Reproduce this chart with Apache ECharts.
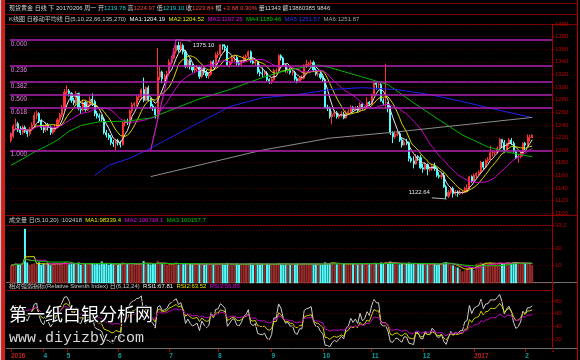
<!DOCTYPE html>
<html><head><meta charset="utf-8">
<script src="https://cdn.jsdelivr.net/npm/echarts@6/dist/echarts.min.js"></script>
<style>html,body{margin:0;padding:0;background:#000}#c{width:580px;height:360px}</style>
</head><body><div id="c"></div>
<script>
// ---------------- data ----------------
const tickIndex = [0,14,24,46,68,89,112,134,155,177,199,221];
const tickLabels = ['2016','4','5','6','7','8','9','10','11','12','2017','2'];

const opens = [1215,1222,1238,1242,1232,1228,1236,1230,1226,1233,
1240,1255,1258,1246,1236,1232,1240,1236,1228,1232,
1236,1248,1256,1266,1292,1294,1290,1279,1275,1290,
1266,1264,1276,1264,1272,1281,1277,1258,1254,1252,
1249,1228,1224,1220,1212,1210,1215,1212,1209,1243,
1246,1244,1262,1272,1274,1284,1285,1296,1279,1299,
1279,1270,1267,1256,1316,1324,1313,1317,1321,1339,
1346,1357,1366,1359,1366,1356,1333,1342,1333,1327,
1329,1331,1317,1330,1323,1318,1320,1340,1333,1351,
1352,1367,1365,1362,1335,1340,1346,1347,1338,1336,
1340,1347,1349,1356,1341,1338,1340,1324,1322,1321,
1322,1312,1309,1312,1326,1326,1350,1346,1335,1327,
1328,1323,1323,1313,1310,1314,1314,1333,1336,1337,
1339,1327,1321,1321,1315,1312,1268,1266,1253,1257,
1259,1253,1255,1257,1251,1259,1261,1268,1264,1267,
1263,1273,1266,1268,1276,1273,1288,1307,1304,1304,
1278,1275,1275,1266,1227,1221,1225,1226,1216,1208,
1213,1212,1187,1183,1178,1190,1188,1172,1170,1177,
1170,1170,1175,1171,1160,1158,1160,1142,1127,1133,
1139,1131,1133,1131,1133,1133,1139,1140,1158,1151,
1160,1163,1165,1181,1173,1184,1185,1196,1196,1196,
1203,1217,1212,1201,1210,1216,1211,1198,1188,1190,
1195,1211,1208,1220,1219.78];

const closes = [1222,1238,1242,1232,1228,1236,1230,1226,1233,1240,
1255,1258,1246,1236,1232,1240,1236,1228,1232,1236,
1248,1256,1268,1292,1294,1290,1279,1275,1290,1266,
1264,1276,1264,1272,1281,1277,1258,1254,1252,1249,
1228,1224,1220,1212,1210,1215,1212,1209,1243,1246,
1244,1262,1272,1274,1284,1285,1296,1279,1299,1279,
1270,1267,1256,1316,1324,1313,1317,1321,1339,1346,
1357,1366,1359,1366,1356,1333,1342,1333,1327,1329,
1331,1317,1330,1323,1318,1320,1340,1333,1351,1352,
1367,1365,1362,1335,1340,1346,1347,1338,1336,1340,
1347,1349,1356,1341,1338,1340,1324,1322,1321,1322,
1312,1309,1312,1326,1326,1350,1346,1335,1327,1328,
1323,1323,1313,1310,1314,1314,1333,1336,1337,1339,
1327,1321,1321,1315,1312,1268,1266,1253,1257,1259,
1253,1255,1257,1251,1259,1261,1268,1264,1267,1263,
1273,1266,1268,1276,1273,1288,1307,1304,1304,1278,
1275,1275,1266,1227,1221,1225,1226,1216,1208,1213,
1212,1187,1183,1178,1190,1188,1172,1170,1177,1170,
1170,1175,1171,1160,1158,1160,1142,1127,1133,1139,
1131,1133,1131,1133,1133,1139,1140,1158,1151,1160,
1163,1165,1181,1173,1184,1185,1196,1196,1196,1203,
1217,1212,1201,1210,1216,1211,1198,1188,1190,1195,
1211,1208,1220,1220,1223.84];

const lows = [1212,1219,1233,1229,1224,1225,1227,1221,1223,1230,
1237,1249,1243,1232,1227,1229,1231,1224,1225,1229,
1234,1244,1252,1263,1287,1285,1275,1271,1272,1263,
1258,1261,1261,1262,1269,1270,1254,1250,1246,1245,
1225,1220,1216,1208,1205,1200,1207,1204,1207,1238,
1240,1241,1258,1266,1270,1279,1280,1276,1277,1277,
1266,1262,1250,1250,1311,1306,1309,1311,1318,1336,
1344,1353,1355,1355,1352,1330,1330,1328,1323,1322,
1325,1313,1314,1319,1314,1313,1318,1330,1330,1346,
1349,1359,1356,1333,1331,1336,1340,1334,1333,1333,
1338,1342,1346,1338,1336,1335,1321,1317,1316,1318,
1309,1305,1305,1310,1322,1325,1342,1332,1323,1322,
1320,1318,1310,1306,1308,1311,1312,1330,1333,1333,
1324,1318,1317,1312,1308,1266,1262,1250,1241,1253,
1250,1250,1252,1249,1250,1256,1260,1261,1262,1260,
1261,1264,1263,1266,1270,1271,1286,1296,1298,1277,
1271,1267,1260,1224,1211,1218,1222,1213,1204,1207,
1208,1182,1180,1171,1177,1183,1170,1164,1168,1160,
1166,1167,1167,1157,1155,1154,1140,1122.64,1124,1130,
1125,1128,1126,1129,1130,1132,1134,1138,1148,1148,
1155,1160,1163,1169,1171,1180,1184,1190,1192,1195,
1202,1203,1196,1200,1206,1208,1196,1186,1180,1187,
1190,1200,1206,1214,1219.10];

const highs = [1228,1241,1250,1245,1238,1240,1239,1233,1237,1244,
1260,1263,1260,1249,1240,1244,1243,1239,1236,1241,
1251,1259,1271,1297,1303,1297,1292,1283,1294,1291,
1270,1280,1278,1277,1285,1290,1280,1262,1258,1256,
1251,1232,1227,1224,1216,1218,1218,1215,1245,1249,
1250,1264,1276,1276,1287,1289,1298,1315,1301,1302,
1283,1273,1269,1362,1333,1326,1321,1326,1344,1350,
1362,1375.1,1372,1372,1369,1359,1345,1345,1337,1333,
1335,1333,1333,1333,1327,1324,1342,1343,1355,1357,
1368,1368,1368,1366,1342,1348,1352,1350,1342,1343,
1350,1352,1358,1358,1345,1343,1342,1328,1331,1327,
1325,1314,1315,1329,1330,1352,1352,1348,1337,1331,
1331,1328,1326,1316,1317,1319,1336,1343,1340,1343,
1342,1330,1325,1324,1318,1314,1272,1269,1262,1264,
1262,1259,1262,1261,1263,1265,1271,1270,1270,1270,
1276,1275,1270,1284,1278,1290,1308,1309,1307,1306,
1282,1337,1276,1270,1230,1230,1230,1230,1219,1217,
1218,1214,1190,1190,1194,1192,1192,1178,1180,1179,
1174,1178,1180,1173,1165,1164,1164,1145,1137,1142,
1142,1137,1136,1137,1136,1142,1146,1159,1160,1163,
1165,1168,1183,1182,1186,1189,1207,1200,1199,1206,
1219,1217,1216,1212,1219,1219,1214,1200,1194,1198,
1212,1213,1225,1224,1224.97];

// volume in units of 10^4
const volumes = [10.2,10.8,11.5,10.4,10.9,11.2,31.0,11.8,10.6,11.0,
11.4,10.7,11.9,10.5,11.1,10.8,11.6,10.3,10.9,11.2,
11.5,10.9,11.3,12.0,11.4,10.8,11.7,11.0,11.3,11.8,
10.6,11.2,10.9,11.5,11.0,11.6,10.8,11.3,10.7,12.4,
10.9,11.5,10.6,11.2,10.8,11.4,10.5,11.0,12.0,10.7,
11.1,10.8,11.6,10.4,11.0,10.9,11.5,12.6,10.8,11.3,
10.7,11.2,11.0,12.8,11.4,10.9,11.1,10.6,11.3,10.8,
11.5,11.9,10.7,11.2,10.9,11.4,10.6,11.0,10.8,11.3,
10.5,11.1,10.9,10.6,11.2,10.4,11.0,10.8,11.3,10.6,
11.4,10.9,10.7,11.6,10.5,11.0,10.8,11.2,10.4,10.9,
11.1,10.7,11.3,11.5,10.6,10.9,11.4,10.8,11.0,10.5,
11.2,10.8,10.6,11.0,10.9,11.7,11.1,10.6,10.9,11.2,
10.7,11.0,10.8,11.3,10.5,10.9,11.4,11.0,10.6,11.1,
10.8,11.2,10.9,10.7,10.6,11.9,11.3,11.6,12.0,11.2,
10.8,11.1,10.9,11.4,10.7,11.0,11.3,10.9,11.2,10.8,
11.5,10.9,11.0,11.6,10.8,11.3,11.7,11.1,10.9,11.8,
11.2,12.2,11.6,12.4,11.5,10.9,11.2,10.8,11.4,10.7,
11.0,11.8,10.9,11.3,10.6,11.0,11.5,10.9,11.2,10.7,
11.0,10.8,11.3,10.6,10.9,11.2,11.8,12.0,11.1,10.5,
10.2,9.6,9.0,8.2,6.8,7.4,8.6,9.8,9.2,7.5,
11.0,11.4,11.8,11.2,11.6,11.0,12.0,11.3,10.9,11.1,
11.7,11.4,11.2,11.8,11.5,11.3,11.9,12.1,11.4,11.0,
11.6,11.2,11.5,11.4,10.2];

// long moving averages: [candle index, value]
const ma66Pts = [[0,1176],[5,1186],[10,1197],[15,1206],[20,1216],[25,1230],[30,1239],[38,1245],[50,1246],[60,1251],[67,1261],[80,1280],[94,1296],[108,1315],[116,1324],[126,1332],[132,1335],[137,1331],[151,1316],[162,1304],[173,1275],[184,1248],[194,1224],[205,1205],[213,1197],[224,1189.46]];
const ma135Pts = [[36,1160],[42,1176],[51,1187],[60,1203],[65,1213],[80,1242],[94,1269],[108,1283],[123,1288],[137,1296],[151,1299],[166,1296],[180,1288],[194,1277],[209,1264],[224,1251.57]];
const ma270Pts = [[60,1158],[84,1179],[108,1200],[137,1219],[166,1229],[194,1240],[224,1251.87]];

// Fibonacci (drawn from the low to the high)
const fibLow = 1199.6, fibHigh = 1375.1;
const fibLevels = [0, 0.236, 0.382, 0.5, 0.618, 1];
const fibSwing = [[60, 1199.6], [71, 1375.1]];
const highMark = [[71, 1375.1], [77, 1373.2]];
const lowMark = [[187, 1122.64], [181, 1124.3]];

// ---------------- helpers ----------------
const SLOTS = 233;
const categories = Array.from({length: SLOTS}, (_, i) => String(i));
function ma(arr, n){return arr.map((_,i)=>{let s=0,c=0;for(let j=Math.max(0,i-n+1);j<=i;j++){s+=arr[j];c++;}return +(s/c).toFixed(2);});}
function rsi(arr, n){
  const u=[],a=[];
  for(let i=1;i<arr.length;i++){const d=arr[i]-arr[i-1];u.push(Math.max(d,0));a.push(Math.abs(d));}
  let su=0,sa=0;for(let i=0;i<n;i++){su+=u[i];sa+=a[i];}
  let up=su/n, ab=sa/n;
  const out=[null];
  for(let i=0;i<u.length;i++){up=(u[i]+(n-1)*up)/n;ab=(a[i]+(n-1)*ab)/n;out.push(+(up/ab*100).toFixed(2));}
  return out;
}
const candles = opens.map((o,i)=>[o, closes[i], lows[i], highs[i]]);
const FONT = 'Liberation Sans, Noto Sans CJK SC, sans-serif';
const RED = '#ff3232', CYAN = '#54fcfc';
const gl = {left: 9.84, right: 28};

function lineS(name, data, color, xi, yi, extra){
  return Object.assign({name, type:'line', data, xAxisIndex:xi, yAxisIndex:yi, symbol:'none', silent:true,
    lineStyle:{color, width:1}, itemStyle:{color}, z:3}, extra||{});
}
function xAx(gi, show){
  return {type:'category', gridIndex:gi, data:categories, boundaryGap:true,
    axisLine:{show:false}, splitLine:{show:false},
    axisTick: show ? {show:true, alignWithLabel:true, inside:true, length:3, interval:(i)=>tickIndex.includes(i), lineStyle:{color:'#c00000'}} : {show:false},
    axisLabel: show ? {show:true, interval:(i)=>tickIndex.includes(i), align:'left', margin:1, fontSize:6.5, fontWeight:'bold', fontFamily:FONT,
      formatter:(v,i)=>{const k=tickIndex.indexOf(i); if(k<0) return ''; const t=tickLabels[k]; return t.length===4?'{y|'+t+'}':'{m|'+t+'}';},
      rich:{y:{color:'#c02020',fontSize:6.5,fontWeight:'bold',fontFamily:FONT}, m:{color:'#10a0a0',fontSize:6.5,fontWeight:'bold',fontFamily:FONT}}} : {show:false}};
}
function yAx(gi, min, max, interval, fmt, split){
  return {type:'value', gridIndex:gi, position:'right', min, max, interval, scale:false,
    axisLine:{show:false}, axisTick:{show:true, length:2, lineStyle:{color:'#a00000'}},
    axisLabel:{show:true, color:'#c00000', fontSize:6, margin:3, fontFamily:FONT, formatter:fmt, showMinLabel:true, showMaxLabel:true},
    splitLine:{show:split, lineStyle:{color:'#5c0000', type:[1,2], width:1}}};
}
function markS(name, data, text, pos){
  return {name, type:'line', data, xAxisIndex:0, yAxisIndex:0, silent:true, z:4,
    symbol:'circle', symbolSize:1, showSymbol:true,
    lineStyle:{color:'#b4b4b4', width:1}, itemStyle:{color:'#b4b4b4'},
    label:{show:true, position:pos, fontSize:6, color:'#e4e4e4', fontFamily:FONT,
      formatter:(p)=>p.dataIndex===1?text:''},
    labelLayout:{hideOverlap:false}};
}

const fibRange = fibHigh - fibLow;
const option = {
  backgroundColor:'#000',
  animation:false,
  grid:[
    Object.assign({top:24, height:189.2, outerBoundsMode:'none'}, gl),
    Object.assign({top:225, height:58.2, outerBoundsMode:'none'}, gl),
    Object.assign({top:288.3, height:63.4, outerBoundsMode:'none'}, gl)
  ],
  xAxis:[xAx(0,false), xAx(1,false), xAx(2,true)],
  yAxis:[
    yAx(0,1100,1400,20,(v)=>String(v),true),
    yAx(1,0,33.2,10,(v)=>v>0?String(v):'',true),
    yAx(2,0,100,20,(v)=>(v>0&&v<100)?String(v):'',false)
  ],
  series:[
    {type:'candlestick', xAxisIndex:0, yAxisIndex:0, data:candles, barWidth:1.6, silent:true, z:2,
     itemStyle:{color:RED, color0:CYAN, borderColor:RED, borderColor0:CYAN, borderWidth:1},
     markLine:{silent:true, symbol:'none', animation:false,
       lineStyle:{color:'#b020b0', width:1.5, type:'solid'},
       label:{show:true, position:'insideStartBottom', distance:[1,1], color:'#e080e0', fontSize:6.5, fontFamily:FONT},
       data: fibLevels.map(l=>({yAxis: +(fibHigh - l*fibRange).toFixed(2), label:{formatter:l.toFixed(3)}}))}},
    lineS('MA5', ma(closes,5), '#e8e8e8', 0, 0),
    lineS('MA10', ma(closes,10), '#d8d800', 0, 0),
    lineS('MA22', ma(closes,22), '#d000d0', 0, 0),
    lineS('MA66', ma66Pts, '#00b400', 0, 0),
    lineS('MA135', ma135Pts, '#2020f0', 0, 0),
    lineS('MA270', ma270Pts, '#8c8c8c', 0, 0),
    lineS('fib', fibSwing, '#c020c0', 0, 0, {lineStyle:{color:'#c020c0', width:1.2}}),
    markS('hi', highMark, '1375.10', [3, 2]),
    markS('lo', lowMark, '1122.64', [-23, -8]),
    {type:'bar', xAxisIndex:1, yAxisIndex:1, silent:true, barWidth:2,
     data: volumes.map((v,i)=>({value:v, itemStyle:{color: closes[i]>=opens[i] ? '#9c2c2c' : CYAN}}))},
    lineS('VMA5', ma(volumes,5), '#e0e000', 1, 1),
    lineS('VMA10', ma(volumes,10), '#e000e0', 1, 1),
    lineS('VMA20', ma(volumes,20), '#00d000', 1, 1),
    lineS('RSI1', rsi(closes,6), '#d0d0d0', 2, 2),
    lineS('RSI2', rsi(closes,12), '#d0d000', 2, 2),
    lineS('RSI3', rsi(closes,24), '#c000c0', 2, 2, {markLine:{silent:true, symbol:'none', label:{show:false},
       lineStyle:{color:'#5c0000', type:[1,2], width:1}, data:[{yAxis:20},{yAxis:40},{yAxis:60},{yAxis:80}]}})
  ],
  graphic:[
    // frame lines
    {type:'rect', shape:{x:0,y:0,width:1.5,height:360}, style:{fill:'#e8b8b8'}, silent:true},
    {type:'rect', shape:{x:1.5,y:0,width:3.5,height:360}, style:{fill:'#d41e1e'}, silent:true},
    {type:'line', shape:{x1:6,y1:3.5,x2:577,y2:3.5}, style:{stroke:'#7a0000',lineWidth:1}, silent:true},
    {type:'line', shape:{x1:6,y1:14.5,x2:577,y2:14.5}, style:{stroke:'#7a0000',lineWidth:1}, silent:true},
    {type:'line', shape:{x1:6,y1:24.5,x2:577,y2:24.5}, style:{stroke:'#7a0000',lineWidth:1}, silent:true},
    {type:'line', shape:{x1:6,y1:215.5,x2:577,y2:215.5}, style:{stroke:'#8a0000',lineWidth:1}, silent:true},
    {type:'line', shape:{x1:6,y1:225.5,x2:552,y2:225.5}, style:{stroke:'#8a0000',lineWidth:1}, silent:true},
    {type:'line', shape:{x1:6,y1:282.5,x2:577,y2:282.5}, style:{stroke:'#707070',lineWidth:1}, silent:true},
    {type:'line', shape:{x1:6,y1:290.5,x2:552,y2:290.5}, style:{stroke:'#8a0000',lineWidth:1}, silent:true},
    {type:'line', shape:{x1:6,y1:348.5,x2:577,y2:348.5}, style:{stroke:'#707070',lineWidth:1}, silent:true},
    {type:'line', shape:{x1:552.5,y1:24,x2:552.5,y2:349}, style:{stroke:'#a00000',lineWidth:1}, silent:true},
    {type:'line', shape:{x1:577.5,y1:0,x2:577.5,y2:360}, style:{stroke:'#c00000',lineWidth:1}, silent:true},
    // header texts
    {type:'text', x:9, y:5.5, silent:true, style:{fontSize:6, fontFamily:FONT,
      text:'{w|现货黄金 日线 下 20170206 周一 开}{c|1219.78}{w| 高}{r|1224.97}{w| 低}{c|1219.10}{w| 收}{r|1223.84}{w| 幅 }{r|+3.68 0.30%}{w| 量11343 额13860385 9846}',
      rich:{w:{fill:'#d8d8d8',fontSize:6,fontFamily:FONT}, c:{fill:'#20d0d0',fontSize:6,fontFamily:FONT}, r:{fill:'#ff4040',fontSize:6,fontFamily:FONT}}}},
    {type:'text', x:9, y:16.5, silent:true, style:{fontSize:6, fontFamily:FONT,
      text:'{g|K线图 日移动平均线 日(5,10,22,66,135,270)  }{w|MA1:1204.19  }{y|MA2:1204.52  }{m|MA3:1197.25  }{gr|MA4:1189.46  }{b|MA5:1251.57  }{s|MA6:1251.87}',
      rich:{g:{fill:'#c8c8c8',fontSize:6,fontFamily:FONT}, w:{fill:'#f0f0f0',fontSize:6,fontFamily:FONT}, y:{fill:'#e8e800',fontSize:6,fontFamily:FONT}, m:{fill:'#e000e0',fontSize:6,fontFamily:FONT}, gr:{fill:'#00c800',fontSize:6,fontFamily:FONT}, b:{fill:'#3030ff',fontSize:6,fontFamily:FONT}, s:{fill:'#a0a0a0',fontSize:6,fontFamily:FONT}}}},
    {type:'text', x:9, y:217, silent:true, style:{fontSize:6, fontFamily:FONT,
      text:'{g|成交量 日(5,10,20) :102418  }{y|MA1:98339.4  }{m|MA2:100718.1  }{gr|MA3:100157.7}',
      rich:{g:{fill:'#c8c8c8',fontSize:6,fontFamily:FONT}, y:{fill:'#e8e800',fontSize:6,fontFamily:FONT}, m:{fill:'#e000e0',fontSize:6,fontFamily:FONT}, gr:{fill:'#00c800',fontSize:6,fontFamily:FONT}}}},
    {type:'text', x:9, y:283.5, silent:true, style:{fontSize:6, fontFamily:FONT,
      text:'{g|相对强弱指标(Relative Strenth Index) 日(6,12,24)  }{w|RSI1:67.81  }{y|RSI2:63.52  }{m|RSI3:56.86}',
      rich:{g:{fill:'#c8c8c8',fontSize:6,fontFamily:FONT}, w:{fill:'#f0f0f0',fontSize:6,fontFamily:FONT}, y:{fill:'#e8e800',fontSize:6,fontFamily:FONT}, m:{fill:'#e000e0',fontSize:6,fontFamily:FONT}}}},
    // watermark
    {type:'text', x:9, y:305, z:100, silent:true, style:{text:'第一纸白银分析网', fontSize:18, fontFamily:'Noto Sans CJK SC', fill:'#ffffff', stroke:'#000000', lineWidth:2}},
    {type:'text', x:9, y:331, z:100, silent:true, style:{text:'www.diyizby.com', fontSize:15, fontFamily:'Liberation Mono', fill:'#d8d8d8', stroke:'#000000', lineWidth:2}}
  ]
};
const chart = echarts.init(document.getElementById('c'), null, {renderer:'canvas'});
chart.setOption(option);
</script></body></html>
